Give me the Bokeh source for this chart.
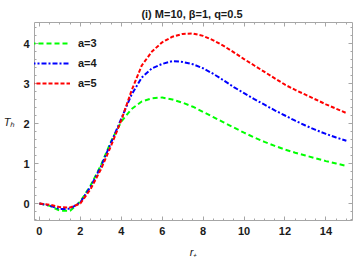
from bokeh.plotting import figure
from bokeh.models import (Range1d, SingleIntervalTicker, LinearAxis, Legend, LegendItem,
                          CustomJSTickFormatter)
from bokeh.embed import file_html
from bokeh.resources import INLINE

# ---- data ----
r_plus = [0, 0.5, 1, 1.5, 2, 2.5, 3, 3.5, 4, 4.5, 5, 5.5, 6, 6.5, 7, 7.5, 8, 8.5, 9, 9.5,
          10, 10.5, 11, 11.5, 12, 12.5, 13, 13.5, 14, 14.5, 15]
th_a3 = [0, -0.06, -0.18, -0.18, 0.05, 0.45, 0.95, 1.55, 2.05, 2.36, 2.55, 2.63, 2.65, 2.6, 2.52,
         2.42, 2.29, 2.16, 2.03, 1.9, 1.77, 1.65, 1.54, 1.44, 1.35, 1.27, 1.2, 1.13, 1.06, 1.0, 0.94]
th_a4 = [0, -0.05, -0.14, -0.13, 0.03, 0.42, 0.92, 1.52, 2.12, 2.72, 3.15, 3.38, 3.49, 3.56, 3.54,
         3.48, 3.38, 3.24, 3.08, 2.91, 2.76, 2.61, 2.47, 2.33, 2.2, 2.07, 1.95, 1.84, 1.74, 1.65, 1.57]
th_a5 = [0, -0.03, -0.09, -0.1, 0.0, 0.36, 0.85, 1.44, 2.08, 2.82, 3.45, 3.8, 4.03, 4.17, 4.24,
         4.25, 4.19, 4.08, 3.94, 3.78, 3.61, 3.45, 3.29, 3.13, 2.97, 2.84, 2.72, 2.6, 2.48, 2.37, 2.26]
series_labels = ["a=3", "a=4", "a=5"]
title_text = "(i)  M=10, \u03b2=1, q=0.5"
x_label = "r\u208a"
y_label = "T\u2095"

FONT = "Liberation Sans"
TXT = "#1a1a1a"

p = figure(width=354, height=263, output_backend="svg", toolbar_location=None,
           x_range=Range1d(-0.241, 15.30), y_range=Range1d(-0.425, 4.525),
           min_border_left=30, min_border_right=2, min_border_top=22, min_border_bottom=43,
           x_axis_type=None, y_axis_type=None)
p.outline_line_color = None
p.xgrid.visible = False
p.ygrid.visible = False

p.title.text = title_text
p.title.align = "center"
p.title.text_font = FONT
p.title.text_font_style = "bold"
p.title.text_font_size = "11px"
p.title.text_color = TXT
p.title.standoff = 6

frame_col = "#a6a6a6"

def style_axis(ax, labels=True, standoff=5):
    ax.axis_line_color = frame_col
    ax.major_tick_line_color = frame_col
    ax.minor_tick_line_color = frame_col
    ax.major_tick_in = 4
    ax.major_tick_out = 0
    ax.minor_tick_in = 2
    ax.minor_tick_out = 0
    ax.major_label_text_font = FONT
    ax.major_label_text_font_style = "bold"
    ax.major_label_text_font_size = "11px"
    ax.major_label_text_color = TXT
    ax.major_label_standoff = standoff
    ax.axis_label_text_font = FONT
    ax.axis_label_text_font_style = "italic"
    ax.axis_label_text_font_size = "11px"
    ax.axis_label_text_color = TXT
    if not labels:
        ax.formatter = CustomJSTickFormatter(code="return ''")
        ax.major_label_standoff = 0

xt = lambda: SingleIntervalTicker(interval=2, num_minor_ticks=4)
yt = lambda: SingleIntervalTicker(interval=1, num_minor_ticks=5)

ax_b = LinearAxis(ticker=xt(), axis_label=x_label); style_axis(ax_b, True, 6)
ax_b.axis_label_standoff = 8
ax_l = LinearAxis(ticker=yt(), axis_label=y_label); style_axis(ax_l, True, 5)
ax_l.axis_label_standoff = 6
ax_l.axis_label_orientation = "horizontal"
ax_t = LinearAxis(ticker=xt()); style_axis(ax_t, False)
ax_r = LinearAxis(ticker=yt()); style_axis(ax_r, False)
p.add_layout(ax_b, "below")
p.add_layout(ax_l, "left")
p.add_layout(ax_t, "above")
p.add_layout(ax_r, "right")

g3 = p.line(r_plus, th_a3, line_color="#00ff00", line_width=2, line_dash="5 3")
g4 = p.line(r_plus, th_a4, line_color="#0000ff", line_width=2, line_dash="5 2 2 2")
g5 = p.line(r_plus, th_a5, line_color="#ff0000", line_width=2, line_dash="4 2")

legend = Legend(items=[LegendItem(label=series_labels[0], renderers=[g3]),
                       LegendItem(label=series_labels[1], renderers=[g4]),
                       LegendItem(label=series_labels[2], renderers=[g5])],
                location=(-4, 127), border_line_color=None, background_fill_alpha=0,
                glyph_width=40, glyph_height=20, label_height=20, label_standoff=8,
                padding=0, margin=0, spacing=0,
                label_text_font=FONT, label_text_font_style="bold", label_text_font_size="11px",
                label_text_color=TXT)
p.add_layout(legend)

open("out.html", "w").write(file_html(p, INLINE))
